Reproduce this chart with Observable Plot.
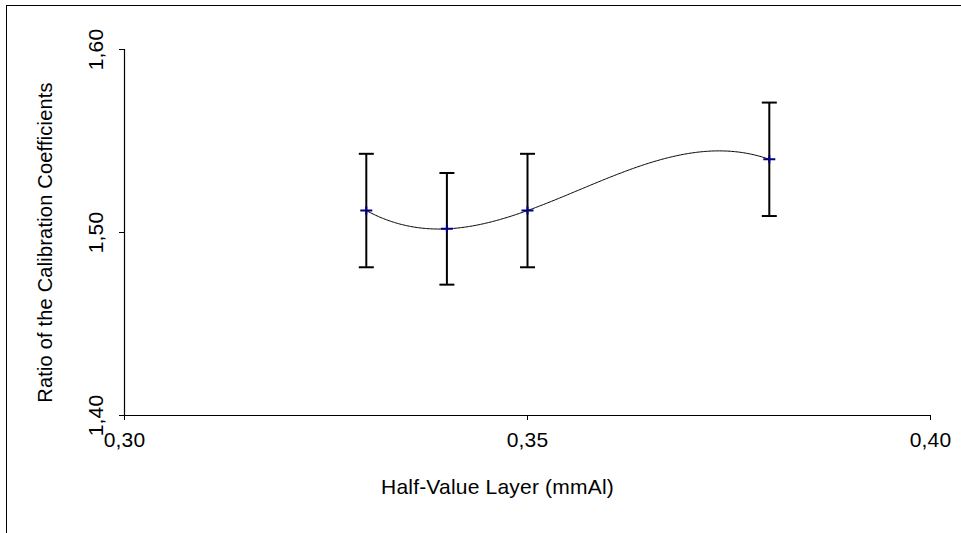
<!DOCTYPE html>
<html>
<head>
<meta charset="utf-8">
<script src="https://cdn.jsdelivr.net/npm/d3@7"></script>
<script src="https://cdn.jsdelivr.net/npm/@observablehq/plot@0.6"></script>
<style>
  html, body { margin: 0; padding: 0; background: #fff; }
  #frame { position: absolute; left: 6px; top: 5px; width: 960px; height: 540px; border: 1px solid #000; box-sizing: border-box; }
  #chart { position: absolute; left: 0; top: 0; }
  #chart svg text { letter-spacing: 0.2px; }
  #chart svg g[aria-label$="tick label"] text { font-size: 21px !important; }
</style>
</head>
<body>
<div id="frame"></div>
<div id="chart"></div>
<script>
const hvl = [0.33, 0.34, 0.35, 0.38];
const ratio = [1.512, 1.502, 1.512, 1.540];
const uncertainty = [0.031, 0.0305, 0.031, 0.031];
const xTicks = [0.30, 0.35, 0.40];
const yTicks = [1.40, 1.50, 1.60];
const xLabel = "Half-Value Layer (mmAl)";
const yLabel = "Ratio of the Calibration Coefficients";
const trendOrder = 3; // polynomial trendline order

const data = hvl.map((x, i) => ({x, y: ratio[i], lo: ratio[i] - uncertainty[i], hi: ratio[i] + uncertainty[i]}));
const fmt = d => d.toFixed(2).replace(".", ",");

// Custom d3 curve: least-squares polynomial trendline through the line's points
function polyTrend(order) {
  return function(context) {
    let pts = [];
    return {
      areaStart() {}, areaEnd() {},
      lineStart() { pts = []; },
      point(x, y) { pts.push([+x, +y]); },
      lineEnd() {
        if (!pts.length) return;
        const xs = pts.map(p => p[0]);
        const x0 = d3.mean(xs), s = (d3.max(xs) - d3.min(xs)) / 2 || 1;
        const n = Math.min(order, pts.length - 1) + 1;
        const A = Array.from({length: n}, () => new Array(n + 1).fill(0));
        for (const [px, py] of pts) {
          const u = (px - x0) / s;
          for (let r = 0; r < n; r++) {
            for (let c = 0; c < n; c++) A[r][c] += Math.pow(u, r + c);
            A[r][n] += py * Math.pow(u, r);
          }
        }
        for (let i = 0; i < n; i++) {
          let m = i;
          for (let k = i + 1; k < n; k++) if (Math.abs(A[k][i]) > Math.abs(A[m][i])) m = k;
          [A[i], A[m]] = [A[m], A[i]];
          for (let k = 0; k < n; k++) {
            if (k === i) continue;
            const f = A[k][i] / A[i][i];
            for (let c = i; c <= n; c++) A[k][c] -= f * A[i][c];
          }
        }
        const coef = A.map((row, i) => row[n] / row[i]);
        const f = x => { const u = (x - x0) / s; return coef.reduce((acc, c, i) => acc + c * Math.pow(u, i), 0); };
        const xa = d3.min(xs), xb = d3.max(xs), steps = 300;
        for (let i = 0; i <= steps; i++) {
          const x = xa + (xb - xa) * i / steps;
          if (i === 0) context.moveTo(x, f(x)); else context.lineTo(x, f(x));
        }
      }
    };
  };
}

const capSymbol = { draw(ctx) { ctx.moveTo(-7.5, 0); ctx.lineTo(7.5, 0); } };
const markerSymbol = { draw(ctx) { ctx.moveTo(-6, 0); ctx.lineTo(6, 0); ctx.moveTo(0, -4); ctx.lineTo(0, 4); } };

const chart = Plot.plot({
  width: 961,
  height: 533,
  marginLeft: 124,
  marginRight: 31,
  marginTop: 49,
  marginBottom: 118,
  style: { fontFamily: "'Liberation Sans', Arial, sans-serif", fontSize: "21px", color: "#000", background: "transparent" },
  x: { domain: [0.30, 0.40], ticks: xTicks, tickFormat: fmt, label: null },
  y: { domain: [1.40, 1.60], ticks: yTicks, tickFormat: fmt, label: null },
  marks: [
    Plot.axisX({ ticks: xTicks, tickFormat: fmt, tickSize: 5, tickPadding: 12, label: null, stroke: "#000", strokeOpacity: 1 }),
    Plot.axisY({ ticks: yTicks, tickFormat: fmt, tickSize: 5, tickPadding: 17, tickRotate: -90, label: null, stroke: "#000", strokeOpacity: 1 }),
    Plot.ruleX([0.30], { stroke: "#000", strokeWidth: 1.2 }),
    Plot.ruleY([1.40], { stroke: "#000", strokeWidth: 1.2 }),
    Plot.line(data, { x: "x", y: "y", curve: polyTrend(trendOrder), stroke: "#000", strokeWidth: 1 }),
    Plot.ruleX(data, { x: "x", y1: "lo", y2: "hi", stroke: "#000", strokeWidth: 2 }),
    Plot.dot(data, { x: "x", y: "hi", symbol: capSymbol, stroke: "#000", strokeWidth: 2, fill: "none" }),
    Plot.dot(data, { x: "x", y: "lo", symbol: capSymbol, stroke: "#000", strokeWidth: 2, fill: "none" }),
    Plot.dot(data, { x: "x", y: "y", symbol: markerSymbol, stroke: "#000080", strokeWidth: 2, fill: "none" }),
    Plot.text([xLabel], { frameAnchor: "bottom", dx: -30, dy: 78, text: d => d, fontSize: 21 }),
    Plot.text([yLabel], { frameAnchor: "left", textAnchor: "middle", dx: -79, dy: 10, rotate: -90, text: d => d, fontSize: 20 })
  ]
});
document.getElementById("chart").appendChild(chart);
</script>
</body>
</html>
